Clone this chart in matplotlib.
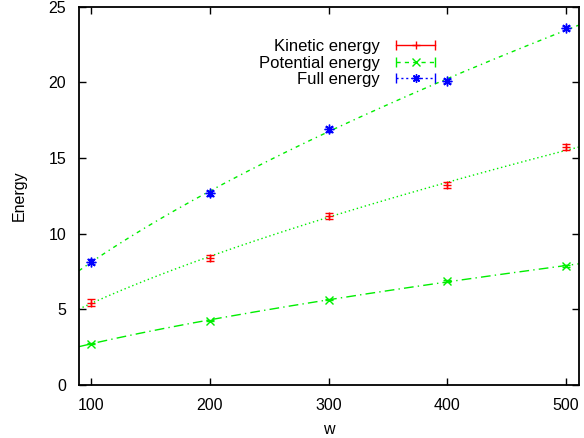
import numpy as np
import matplotlib
matplotlib.use("Agg")
import matplotlib.pyplot as plt
from matplotlib.lines import Line2D
from matplotlib.legend_handler import HandlerLine2D, HandlerTuple

plt.rcParams['font.family'] = ['Liberation Sans', 'DejaVu Sans']
plt.rcParams['font.size'] = 11

# data
w = [100, 200, 300, 400, 500]
kinetic = [5.44, 8.38, 11.18, 13.2, 15.72]
kinetic_err = [0.22, 0.2, 0.2, 0.2, 0.22]
potential = [2.74, 4.25, 5.65, 6.88, 7.86]
potential_err = [0.05, 0.05, 0.05, 0.05, 0.05]
full = [8.16, 12.67, 16.9, 20.09, 23.58]
full_err = [0.15, 0.15, 0.15, 0.15, 0.15]
labels = ["Kinetic energy", "Potential energy", "Full energy"]

red = '#ff0000'
green = '#00ee00'
blue = '#0000ff'

fig = plt.figure(figsize=(5.84, 4.38), dpi=100)
ax = fig.add_axes([0.1348, 0.121, 0.8572, 0.8637])
xmin, xmax = 89.4, 511.2

# power law fits a*w^b, like gnuplot's fit
xs = np.linspace(xmin, xmax, 200)
def powfit(y):
    b, lna = np.polyfit(np.log(w), np.log(y), 1)
    return np.exp(lna) * xs ** b

ax.plot(xs, powfit(kinetic), color=green, lw=1.0, ls=(0, (1, 2)))
ax.plot(xs, powfit(potential), color=green, lw=1.0, ls=(0, (7, 3, 1, 3)))
ax.plot(xs, powfit(full), color=green, lw=1.0, ls=(0, (3, 3, 1, 3)))

ax.errorbar(w, kinetic, yerr=kinetic_err, fmt='none', ecolor=red, elinewidth=1, capsize=3, capthick=1)
ax.plot(w, kinetic, ls='none', marker='+', ms=6, mew=1, color=red)
ax.errorbar(w, potential, yerr=potential_err, fmt='none', ecolor=green, elinewidth=1, capsize=3, capthick=1)
ax.plot(w, potential, ls='none', marker='x', ms=5.5, mew=1, color=green)
ax.errorbar(w, full, yerr=full_err, fmt='none', ecolor=blue, elinewidth=1, capsize=3, capthick=1)
ax.plot(w, full, ls='none', marker=(8, 2, 0), ms=7, mew=1, color=blue)

ax.set_xlim(xmin, xmax)
ax.set_ylim(0, 25)
ax.set_xticks([100, 200, 300, 400, 500])
ax.set_yticks([0, 5, 10, 15, 20, 25])
ax.tick_params(direction='in', length=5, width=1, top=True, right=True, pad=9, labelsize=11.5)
for s in ax.spines.values():
    s.set_linewidth(1.3)
ax.set_xlabel("w", fontsize=11.5, labelpad=7)
ax.set_ylabel("Energy", fontsize=11.5, labelpad=16)

# gnuplot style key: label on the left, sample with end ticks on the right
handles = []
hmap = {}
for c, ls, mk in [(red, '-', '+'), (green, (0, (3, 3)), 'x'), (blue, (0, (1.5, 2)), (8, 2, 0))]:
    seg = Line2D([], [], color=c, lw=1, ls=ls, marker='|', ms=7, mew=1)
    pt = Line2D([], [], color=c, ls='none', marker=mk, ms=6, mew=1)
    hmap[seg] = HandlerLine2D(numpoints=2)
    hmap[pt] = HandlerLine2D(numpoints=1)
    handles.append((seg, pt))
hmap[tuple] = HandlerTuple(ndivide=1)
ax.legend(handles, labels, handler_map=hmap, loc='upper right', bbox_to_anchor=(0.722, 0.915),
          frameon=False, markerfirst=False, handlelength=2.95, handletextpad=0.65,
          labelspacing=0.1, borderpad=0, borderaxespad=0, fontsize=12)

fig.savefig("out.png", dpi=100)
